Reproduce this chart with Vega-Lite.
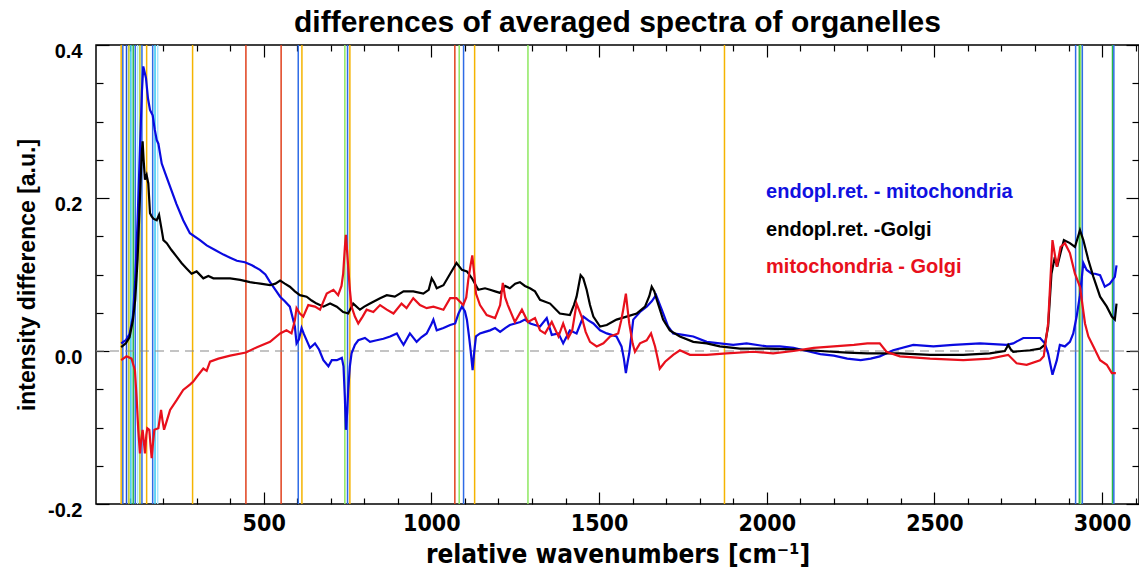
{
  "$schema": "https://vega.github.io/schema/vega-lite/v6.json",
  "width": 1043,
  "height": 459,
  "autosize": "none",
  "padding": {"left": 96, "top": 45, "right": 0, "bottom": 63},
  "background": "white",
  "config": {"view": {"stroke": "black", "strokeWidth": 1.5}, "font": "Liberation Sans"},
  "title": {"text": "differences of averaged spectra of organelles", "font": "Liberation Sans", "fontSize": 30, "fontWeight": "bold", "color": "black", "anchor": "middle", "offset": 3},
  "datasets": {
    "bands": [
      {"wn": 75, "set": "gold"}, {"wn": 80, "set": "blue"}, {"wn": 91, "set": "navy"}, {"wn": 98, "set": "olive"},
      {"wn": 104, "set": "cyan"}, {"wn": 111, "set": "green"}, {"wn": 117, "set": "blue"}, {"wn": 124, "set": "sky"},
      {"wn": 131, "set": "olive"}, {"wn": 137, "set": "blue"}, {"wn": 151, "set": "gold"}, {"wn": 169, "set": "blue"},
      {"wn": 176, "set": "cyan"}, {"wn": 184, "set": "sky"}, {"wn": 288, "set": "gold"}, {"wn": 447, "set": "red"},
      {"wn": 552, "set": "red"}, {"wn": 603, "set": "blue"}, {"wn": 614, "set": "gold"}, {"wn": 742, "set": "lightgreen"},
      {"wn": 750, "set": "blue"}, {"wn": 757, "set": "gold"}, {"wn": 1070, "set": "red"}, {"wn": 1083, "set": "lightgreen"},
      {"wn": 1096, "set": "blue"}, {"wn": 1129, "set": "gold"}, {"wn": 1288, "set": "lightgreen"}, {"wn": 1874, "set": "gold"},
      {"wn": 2921, "set": "blue"}, {"wn": 2932, "set": "green"}, {"wn": 2936, "set": "lightgreen"}, {"wn": 2941, "set": "blue"},
      {"wn": 3031, "set": "green"}, {"wn": 3035, "set": "blue"}
    ],
    "blue": [
      {"wn":75,"d":0.010},{"wn":89,"d":0.014},{"wn":100,"d":0.022},{"wn":110,"d":0.045},{"wn":117,"d":0.093},{"wn":124,"d":0.17},{"wn":131,"d":0.263},{"wn":137,"d":0.34},{"wn":141,"d":0.372},{"wn":149,"d":0.357},{"wn":155,"d":0.33},{"wn":161,"d":0.315},{"wn":169,"d":0.308},{"wn":175,"d":0.29},{"wn":181,"d":0.276},{"wn":186,"d":0.271},{"wn":196,"d":0.245},{"wn":210,"d":0.228},{"wn":225,"d":0.210},{"wn":240,"d":0.192},{"wn":260,"d":0.171},{"wn":280,"d":0.154},{"wn":310,"d":0.145},{"wn":330,"d":0.138},{"wn":355,"d":0.132},{"wn":380,"d":0.126},{"wn":400,"d":0.122},{"wn":420,"d":0.118},{"wn":444,"d":0.116},{"wn":465,"d":0.112},{"wn":489,"d":0.106},{"wn":505,"d":0.100},{"wn":519,"d":0.090},{"wn":535,"d":0.080},{"wn":549,"d":0.071},{"wn":563,"d":0.065},{"wn":578,"d":0.058},{"wn":593,"d":0.032},{"wn":598,"d":0.010},{"wn":605,"d":0.015},{"wn":613,"d":0.030},{"wn":620,"d":0.022},{"wn":638,"d":0.004},{"wn":653,"d":0.010},{"wn":665,"d":0.002},{"wn":678,"d":-0.012},{"wn":693,"d":-0.020},{"wn":703,"d":-0.012},{"wn":718,"d":-0.012},{"wn":733,"d":-0.009},{"wn":738,"d":-0.02},{"wn":742,"d":-0.06},{"wn":745,"d":-0.103},{"wn":749,"d":-0.08},{"wn":752,"d":-0.051},{"wn":757,"d":-0.02},{"wn":762,"d":-0.003},{"wn":772,"d":0.008},{"wn":782,"d":0.014},{"wn":802,"d":0.017},{"wn":817,"d":0.012},{"wn":837,"d":0.014},{"wn":857,"d":0.016},{"wn":877,"d":0.019},{"wn":897,"d":0.023},{"wn":907,"d":0.015},{"wn":917,"d":0.008},{"wn":926,"d":0.015},{"wn":936,"d":0.023},{"wn":956,"d":0.012},{"wn":970,"d":0.018},{"wn":986,"d":0.023},{"wn":1000,"d":0.035},{"wn":1006,"d":0.041},{"wn":1016,"d":0.027},{"wn":1036,"d":0.030},{"wn":1056,"d":0.034},{"wn":1071,"d":0.036},{"wn":1081,"d":0.049},{"wn":1091,"d":0.058},{"wn":1100,"d":0.052},{"wn":1106,"d":0.041},{"wn":1112,"d":0.02},{"wn":1117,"d":0.001},{"wn":1123,"d":-0.025},{"wn":1128,"d":0.0},{"wn":1133,"d":0.019},{"wn":1145,"d":0.023},{"wn":1160,"d":0.025},{"wn":1175,"d":0.027},{"wn":1190,"d":0.030},{"wn":1205,"d":0.025},{"wn":1220,"d":0.030},{"wn":1234,"d":0.034},{"wn":1250,"d":0.036},{"wn":1265,"d":0.038},{"wn":1279,"d":0.041},{"wn":1295,"d":0.036},{"wn":1309,"d":0.034},{"wn":1324,"d":0.032},{"wn":1344,"d":0.043},{"wn":1359,"d":0.021},{"wn":1379,"d":0.023},{"wn":1393,"d":0.010},{"wn":1413,"d":0.027},{"wn":1433,"d":0.023},{"wn":1453,"d":0.045},{"wn":1468,"d":0.040},{"wn":1483,"d":0.036},{"wn":1503,"d":0.027},{"wn":1523,"d":0.023},{"wn":1552,"d":0.019},{"wn":1567,"d":0.006},{"wn":1574,"d":-0.01},{"wn":1580,"d":-0.029},{"wn":1585,"d":-0.015},{"wn":1590,"d":-0.003},{"wn":1602,"d":0.041},{"wn":1622,"d":0.051},{"wn":1642,"d":0.058},{"wn":1657,"d":0.065},{"wn":1670,"d":0.073},{"wn":1687,"d":0.054},{"wn":1706,"d":0.032},{"wn":1721,"d":0.023},{"wn":1751,"d":0.021},{"wn":1781,"d":0.019},{"wn":1821,"d":0.012},{"wn":1860,"d":0.010},{"wn":1900,"d":0.008},{"wn":1940,"d":0.010},{"wn":2000,"d":0.006},{"wn":2039,"d":0.006},{"wn":2080,"d":0.004},{"wn":2120,"d":0.0},{"wn":2160,"d":-0.004},{"wn":2200,"d":-0.006},{"wn":2240,"d":-0.010},{"wn":2280,"d":-0.012},{"wn":2310,"d":-0.010},{"wn":2337,"d":-0.007},{"wn":2377,"d":0.001},{"wn":2437,"d":0.008},{"wn":2497,"d":0.006},{"wn":2556,"d":0.008},{"wn":2636,"d":0.010},{"wn":2715,"d":0.008},{"wn":2735,"d":0.010},{"wn":2765,"d":0.017},{"wn":2805,"d":0.017},{"wn":2815,"d":0.017},{"wn":2829,"d":0.010},{"wn":2839,"d":-0.003},{"wn":2852,"d":-0.031},{"wn":2865,"d":-0.012},{"wn":2874,"d":0.008},{"wn":2889,"d":0.006},{"wn":2904,"d":0.012},{"wn":2914,"d":0.023},{"wn":2924,"d":0.045},{"wn":2934,"d":0.073},{"wn":2944,"d":0.115},{"wn":2954,"d":0.106},{"wn":2969,"d":0.101},{"wn":2979,"d":0.101},{"wn":2994,"d":0.099},{"wn":3008,"d":0.084},{"wn":3023,"d":0.088},{"wn":3038,"d":0.097},{"wn":3043,"d":0.112}
    ],
    "black": [
      {"wn":75,"d":0.005},{"wn":89,"d":0.010},{"wn":100,"d":0.018},{"wn":110,"d":0.040},{"wn":117,"d":0.067},{"wn":124,"d":0.12},{"wn":131,"d":0.2},{"wn":136,"d":0.255},{"wn":139,"d":0.274},{"wn":142,"d":0.25},{"wn":146,"d":0.224},{"wn":151,"d":0.23},{"wn":156,"d":0.219},{"wn":161,"d":0.180},{"wn":166,"d":0.176},{"wn":171,"d":0.173},{"wn":181,"d":0.171},{"wn":188,"d":0.178},{"wn":196,"d":0.158},{"wn":201,"d":0.145},{"wn":211,"d":0.141},{"wn":225,"d":0.132},{"wn":241,"d":0.123},{"wn":255,"d":0.115},{"wn":270,"d":0.108},{"wn":285,"d":0.101},{"wn":300,"d":0.104},{"wn":320,"d":0.095},{"wn":335,"d":0.098},{"wn":350,"d":0.095},{"wn":370,"d":0.095},{"wn":400,"d":0.095},{"wn":430,"d":0.093},{"wn":459,"d":0.090},{"wn":490,"d":0.088},{"wn":519,"d":0.086},{"wn":535,"d":0.088},{"wn":549,"d":0.092},{"wn":563,"d":0.088},{"wn":578,"d":0.084},{"wn":593,"d":0.078},{"wn":608,"d":0.073},{"wn":628,"d":0.071},{"wn":643,"d":0.066},{"wn":658,"d":0.062},{"wn":678,"d":0.058},{"wn":698,"d":0.062},{"wn":718,"d":0.058},{"wn":737,"d":0.051},{"wn":745,"d":0.050},{"wn":752,"d":0.049},{"wn":767,"d":0.062},{"wn":787,"d":0.054},{"wn":800,"d":0.058},{"wn":817,"d":0.062},{"wn":847,"d":0.069},{"wn":867,"d":0.073},{"wn":891,"d":0.071},{"wn":917,"d":0.078},{"wn":946,"d":0.078},{"wn":976,"d":0.075},{"wn":992,"d":0.080},{"wn":1001,"d":0.095},{"wn":1008,"d":0.090},{"wn":1016,"d":0.082},{"wn":1036,"d":0.086},{"wn":1056,"d":0.101},{"wn":1075,"d":0.115},{"wn":1091,"d":0.106},{"wn":1106,"d":0.104},{"wn":1121,"d":0.095},{"wn":1140,"d":0.080},{"wn":1160,"d":0.082},{"wn":1175,"d":0.080},{"wn":1190,"d":0.078},{"wn":1205,"d":0.076},{"wn":1220,"d":0.085},{"wn":1234,"d":0.082},{"wn":1250,"d":0.088},{"wn":1264,"d":0.090},{"wn":1279,"d":0.085},{"wn":1294,"d":0.082},{"wn":1309,"d":0.078},{"wn":1324,"d":0.067},{"wn":1354,"d":0.062},{"wn":1383,"d":0.049},{"wn":1413,"d":0.047},{"wn":1425,"d":0.060},{"wn":1433,"d":0.071},{"wn":1445,"d":0.099},{"wn":1453,"d":0.095},{"wn":1463,"d":0.080},{"wn":1473,"d":0.060},{"wn":1483,"d":0.045},{"wn":1503,"d":0.032},{"wn":1523,"d":0.034},{"wn":1552,"d":0.041},{"wn":1582,"d":0.045},{"wn":1612,"d":0.049},{"wn":1637,"d":0.058},{"wn":1650,"d":0.072},{"wn":1657,"d":0.084},{"wn":1665,"d":0.078},{"wn":1672,"d":0.067},{"wn":1691,"d":0.041},{"wn":1711,"d":0.027},{"wn":1741,"d":0.019},{"wn":1781,"d":0.012},{"wn":1821,"d":0.010},{"wn":1860,"d":0.006},{"wn":1920,"d":0.003},{"wn":2000,"d":0.003},{"wn":2080,"d":0.002},{"wn":2160,"d":0.0},{"wn":2240,"d":-0.002},{"wn":2300,"d":-0.003},{"wn":2337,"d":-0.003},{"wn":2397,"d":-0.003},{"wn":2487,"d":-0.005},{"wn":2586,"d":-0.005},{"wn":2665,"d":-0.003},{"wn":2710,"d":0.0},{"wn":2720,"d":0.008},{"wn":2728,"d":0.002},{"wn":2735,"d":-0.001},{"wn":2785,"d":0.001},{"wn":2815,"d":0.003},{"wn":2829,"d":0.008},{"wn":2839,"d":0.032},{"wn":2849,"d":0.101},{"wn":2859,"d":0.123},{"wn":2866,"d":0.110},{"wn":2876,"d":0.128},{"wn":2886,"d":0.145},{"wn":2904,"d":0.141},{"wn":2919,"d":0.136},{"wn":2934,"d":0.158},{"wn":2944,"d":0.145},{"wn":2959,"d":0.119},{"wn":2974,"d":0.097},{"wn":2994,"d":0.071},{"wn":3014,"d":0.058},{"wn":3029,"d":0.045},{"wn":3038,"d":0.041},{"wn":3043,"d":0.062}
    ],
    "red": [
      {"wn":75,"d":-0.012},{"wn":91,"d":-0.007},{"wn":106,"d":-0.010},{"wn":116,"d":-0.025},{"wn":121,"d":-0.060},{"wn":126,"d":-0.103},{"wn":131,"d":-0.134},{"wn":135,"d":-0.115},{"wn":139,"d":-0.103},{"wn":143,"d":-0.12},{"wn":146,"d":-0.134},{"wn":150,"d":-0.11},{"wn":153,"d":-0.101},{"wn":159,"d":-0.103},{"wn":163,"d":-0.125},{"wn":166,"d":-0.140},{"wn":170,"d":-0.12},{"wn":174,"d":-0.103},{"wn":180,"d":-0.102},{"wn":186,"d":-0.101},{"wn":194,"d":-0.077},{"wn":198,"d":-0.09},{"wn":203,"d":-0.103},{"wn":212,"d":-0.09},{"wn":221,"d":-0.077},{"wn":241,"d":-0.064},{"wn":260,"d":-0.051},{"wn":280,"d":-0.044},{"wn":290,"d":-0.040},{"wn":300,"d":-0.034},{"wn":320,"d":-0.023},{"wn":330,"d":-0.026},{"wn":340,"d":-0.014},{"wn":365,"d":-0.010},{"wn":400,"d":-0.006},{"wn":447,"d":-0.002},{"wn":480,"d":0.005},{"wn":519,"d":0.012},{"wn":549,"d":0.023},{"wn":568,"d":0.027},{"wn":583,"d":0.023},{"wn":593,"d":0.040},{"wn":598,"d":0.056},{"wn":608,"d":0.049},{"wn":618,"d":0.045},{"wn":633,"d":0.060},{"wn":653,"d":0.058},{"wn":668,"d":0.054},{"wn":688,"d":0.075},{"wn":708,"d":0.080},{"wn":722,"d":0.073},{"wn":732,"d":0.085},{"wn":737,"d":0.101},{"wn":742,"d":0.135},{"wn":745,"d":0.152},{"wn":748,"d":0.135},{"wn":752,"d":0.110},{"wn":757,"d":0.080},{"wn":762,"d":0.058},{"wn":772,"d":0.045},{"wn":782,"d":0.036},{"wn":795,"d":0.045},{"wn":807,"d":0.054},{"wn":827,"d":0.051},{"wn":847,"d":0.060},{"wn":867,"d":0.054},{"wn":887,"d":0.049},{"wn":911,"d":0.062},{"wn":926,"d":0.056},{"wn":946,"d":0.069},{"wn":966,"d":0.060},{"wn":986,"d":0.056},{"wn":1006,"d":0.058},{"wn":1036,"d":0.054},{"wn":1056,"d":0.069},{"wn":1075,"d":0.069},{"wn":1095,"d":0.060},{"wn":1104,"d":0.070},{"wn":1110,"d":0.093},{"wn":1116,"d":0.110},{"wn":1122,"d":0.125},{"wn":1128,"d":0.100},{"wn":1133,"d":0.075},{"wn":1145,"d":0.060},{"wn":1165,"d":0.047},{"wn":1190,"d":0.043},{"wn":1205,"d":0.060},{"wn":1213,"d":0.089},{"wn":1220,"d":0.070},{"wn":1228,"d":0.060},{"wn":1249,"d":0.038},{"wn":1270,"d":0.054},{"wn":1288,"d":0.038},{"wn":1309,"d":0.043},{"wn":1324,"d":0.027},{"wn":1339,"d":0.023},{"wn":1359,"d":0.038},{"wn":1379,"d":0.019},{"wn":1393,"d":0.036},{"wn":1408,"d":0.017},{"wn":1420,"d":0.027},{"wn":1433,"d":0.062},{"wn":1448,"d":0.045},{"wn":1460,"d":0.025},{"wn":1473,"d":0.012},{"wn":1493,"d":0.006},{"wn":1513,"d":0.010},{"wn":1533,"d":0.019},{"wn":1557,"d":0.023},{"wn":1566,"d":0.040},{"wn":1572,"d":0.054},{"wn":1580,"d":0.075},{"wn":1585,"d":0.055},{"wn":1590,"d":0.036},{"wn":1600,"d":0.010},{"wn":1607,"d":-0.001},{"wn":1622,"d":0.010},{"wn":1642,"d":0.014},{"wn":1655,"d":0.023},{"wn":1667,"d":0.006},{"wn":1675,"d":-0.010},{"wn":1681,"d":-0.023},{"wn":1697,"d":-0.014},{"wn":1721,"d":-0.005},{"wn":1741,"d":0.001},{"wn":1771,"d":-0.005},{"wn":1821,"d":-0.005},{"wn":1880,"d":-0.003},{"wn":1960,"d":-0.001},{"wn":2019,"d":-0.003},{"wn":2080,"d":0.0},{"wn":2140,"d":0.004},{"wn":2200,"d":0.006},{"wn":2260,"d":0.008},{"wn":2300,"d":0.010},{"wn":2337,"d":0.010},{"wn":2357,"d":-0.001},{"wn":2397,"d":-0.007},{"wn":2487,"d":-0.010},{"wn":2586,"d":-0.012},{"wn":2665,"d":-0.010},{"wn":2720,"d":-0.005},{"wn":2745,"d":-0.016},{"wn":2775,"d":-0.018},{"wn":2815,"d":-0.012},{"wn":2826,"d":-0.007},{"wn":2839,"d":0.036},{"wn":2852,"d":0.145},{"wn":2865,"d":0.110},{"wn":2876,"d":0.136},{"wn":2889,"d":0.141},{"wn":2904,"d":0.128},{"wn":2919,"d":0.101},{"wn":2934,"d":0.084},{"wn":2949,"d":0.036},{"wn":2959,"d":0.019},{"wn":2974,"d":0.006},{"wn":2994,"d":-0.012},{"wn":3014,"d":-0.018},{"wn":3029,"d":-0.029},{"wn":3041,"d":-0.029}
    ],
    "legend": [
      {"wn": 1998, "d": 0.2, "t": "endopl.ret. - mitochondria", "s": "em"},
      {"wn": 1998, "d": 0.15, "t": "endopl.ret. -Golgi", "s": "eg"},
      {"wn": 1998, "d": 0.102, "t": "mitochondria - Golgi", "s": "mg"}
    ]
  },
  "layer": [
    {
      "data": {"name": "bands"},
      "mark": {"type": "rule", "strokeWidth": 1.5},
      "encoding": {
        "x": {"field": "wn", "type": "quantitative", "scale": {"domain": [0, 3110], "nice": false, "zero": false}, "axis": null},
        "color": {"field": "set", "type": "nominal", "legend": null,
          "scale": {"domain": ["gold", "blue", "navy", "olive", "cyan", "green", "sky", "lightgreen", "red"],
                    "range": ["#F5B400", "#2E6BE6", "#1F4FD8", "#B8C820", "#35C8F0", "#2DB84A", "#A8E4FF", "#8EE860", "#E0401C"]}}
      }
    },
    {
      "data": {"values": [{}]},
      "mark": {"type": "rule", "strokeDash": [9, 6], "color": "#8A8A8A", "strokeWidth": 1.2},
      "encoding": {
        "y": {"datum": 0, "type": "quantitative", "scale": {"domain": [-0.2, 0.4], "nice": false, "zero": false}, "axis": null}
      }
    },
    {
      "data": {"name": "blue"},
      "mark": {"type": "line", "strokeWidth": 2.2, "color": "#0A0AE0", "clip": true},
      "encoding": {
        "x": {"field": "wn", "type": "quantitative", "scale": {"domain": [0, 3110], "nice": false, "zero": false},
          "axis": {"orient": "bottom", "values": [100,200,300,400,500,600,700,800,900,1000,1100,1200,1300,1400,1500,1600,1700,1800,1900,2000,2100,2200,2300,2400,2500,2600,2700,2800,2900,3000,3100],
            "tickSize": {"condition": {"test": "datum.value % 500 === 0", "value": -12}, "value": -6},
            "labelExpr": "datum.value % 500 === 0 ? format(datum.value, 'd') : ''",
            "labelFont": "Liberation Sans Narrow, DejaVu Sans Condensed, sans-serif", "labelFontWeight": "bold", "labelFontSize": 23, "labelColor": "black",
            "labelPadding": 20, "labelFlush": false, "labelOverlap": false, "domain": false, "grid": false, "tickColor": "black", "tickWidth": 1.2,
            "title": "relative wavenumbers [cm⁻¹]", "titleFont": "Liberation Sans Narrow, DejaVu Sans Condensed, sans-serif", "titleFontSize": 26, "titleFontWeight": "bold", "titleColor": "black", "titlePadding": 0}},
        "y": {"field": "d", "type": "quantitative", "scale": {"domain": [-0.2, 0.4], "nice": false, "zero": false},
          "axis": {"orient": "left", "values": [-0.2,-0.15,-0.1,-0.05,0,0.05,0.1,0.15,0.2,0.25,0.3,0.35,0.4],
            "tickSize": {"condition": {"test": "abs(round(datum.value*20)) % 4 === 0", "value": -13}, "value": -7},
            "labelExpr": "abs(round(datum.value*20)) % 4 === 0 ? (datum.value < -0.001 ? '-' : '') + format(abs(datum.value), '.1f') : ''",
            "labelFont": "Liberation Sans", "labelFontWeight": "bold", "labelFontSize": 20, "labelColor": "black", "labelOffset": 6,
            "labelPadding": 27, "labelFlush": false, "labelOverlap": false, "domain": false, "grid": false, "tickColor": "black", "tickWidth": 1.2,
            "title": "intensity difference [a.u.]", "titleFont": "Liberation Sans", "titleFontSize": 23, "titleFontWeight": "bold", "titleColor": "black", "titlePadding": 8}}
      }
    },
    {
      "data": {"name": "black"},
      "mark": {"type": "line", "strokeWidth": 2.2, "color": "#000000", "clip": true},
      "encoding": {
        "x": {"field": "wn", "type": "quantitative", "scale": {"domain": [0, 3110], "nice": false, "zero": false}, "axis": null},
        "y": {"field": "d", "type": "quantitative", "scale": {"domain": [-0.2, 0.4], "nice": false, "zero": false}, "axis": null}
      }
    },
    {
      "data": {"name": "red"},
      "mark": {"type": "line", "strokeWidth": 2.2, "color": "#E8101C", "clip": true},
      "encoding": {
        "x": {"field": "wn", "type": "quantitative", "scale": {"domain": [0, 3110], "nice": false, "zero": false}, "axis": null},
        "y": {"field": "d", "type": "quantitative", "scale": {"domain": [-0.2, 0.4], "nice": false, "zero": false}, "axis": null}
      }
    },
    {
      "data": {"name": "legend"},
      "mark": {"type": "text", "align": "left", "baseline": "alphabetic", "font": "Liberation Sans", "fontSize": 20, "fontWeight": "bold"},
      "encoding": {
        "x": {"field": "wn", "type": "quantitative", "scale": {"domain": [0, 3110], "nice": false, "zero": false},
          "axis": {"orient": "top", "values": [100,200,300,400,500,600,700,800,900,1000,1100,1200,1300,1400,1500,1600,1700,1800,1900,2000,2100,2200,2300,2400,2500,2600,2700,2800,2900,3000,3100],
            "tickSize": {"condition": {"test": "datum.value % 500 === 0", "value": -12}, "value": -6},
            "labels": false, "title": null, "domain": false, "grid": false, "tickColor": "black", "tickWidth": 1.2}},
        "y": {"field": "d", "type": "quantitative", "scale": {"domain": [-0.2, 0.4], "nice": false, "zero": false},
          "axis": {"orient": "right", "values": [-0.2,-0.15,-0.1,-0.05,0,0.05,0.1,0.15,0.2,0.25,0.3,0.35,0.4],
            "tickSize": {"condition": {"test": "abs(round(datum.value*20)) % 4 === 0", "value": -13}, "value": -7},
            "labels": false, "title": null, "domain": false, "grid": false, "tickColor": "black", "tickWidth": 1.2}},
        "text": {"field": "t", "type": "nominal"},
        "color": {"field": "s", "type": "nominal", "legend": null,
          "scale": {"domain": ["em", "eg", "mg"], "range": ["#1010E0", "#000000", "#E8101C"]}}
      }
    }
  ],
  "resolve": {"axis": {"x": "independent", "y": "independent"}, "scale": {"color": "independent"}}
}
